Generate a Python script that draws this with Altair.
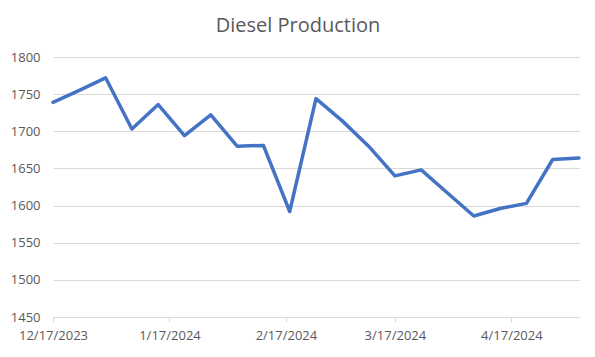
import altair as alt
import pandas as pd

dates = ["2023-12-17", "2023-12-24", "2023-12-31", "2024-01-07", "2024-01-14",
         "2024-01-21", "2024-01-28", "2024-02-04", "2024-02-11", "2024-02-18",
         "2024-02-25", "2024-03-03", "2024-03-10", "2024-03-17", "2024-03-24",
         "2024-03-31", "2024-04-07", "2024-04-14", "2024-04-21", "2024-04-28",
         "2024-05-05"]
values = [1739, 1755, 1772, 1703, 1736, 1694, 1722, 1680, 1681, 1592,
          1744, 1714, 1680, 1640, 1648, 1617, 1586, 1596, 1603, 1662, 1664]
tick_dates = [(2023, 12, 17), (2024, 1, 17), (2024, 2, 17), (2024, 3, 17), (2024, 4, 17)]
y_ticks = [1450, 1500, 1550, 1600, 1650, 1700, 1750, 1800]

df = pd.DataFrame({"date": dates, "value": values})

tick_vals = [alt.DateTime(year=y, month=m, date=d, utc=True) for (y, m, d) in tick_dates]

chart = alt.Chart(df).mark_line(color="#4472C4", strokeWidth=3.5, strokeCap="round", strokeJoin="round").encode(
    x=alt.X("date:T",
            scale=alt.Scale(type="utc", nice=False),
            axis=alt.Axis(values=tick_vals, format="%-m/%-d/%Y", title=None, grid=False,
                          domainColor="#D9D9D9", tickColor="#D9D9D9", tickSize=5,
                          labelColor="#595959", labelFontSize=13, labelFont="Open Sans",
                          labelPadding=7, labelFlush=False)),
    y=alt.Y("value:Q",
            scale=alt.Scale(domain=[1450, 1800], nice=False, zero=False),
            axis=alt.Axis(values=y_ticks, format="d", title=None, domain=False, ticks=False,
                          gridColor="#D9D9D9", gridWidth=1,
                          labelColor="#595959", labelFontSize=13, labelFont="Open Sans",
                          labelPadding=13)),
).properties(
    width=526, height=260,
    title=alt.TitleParams("Diesel Production", fontSize=20, font="Open Sans", fontWeight="normal",
                          color="#595959", anchor="middle", dx=-18, offset=15),
    padding={"left": 53, "top": 57, "right": 16, "bottom": 40},
    autosize=alt.AutoSizeParams(type="none"),
    background="white",
).configure_view(stroke=None)

chart.save("out.html", embed_options={"renderer": "svg", "actions": False})
